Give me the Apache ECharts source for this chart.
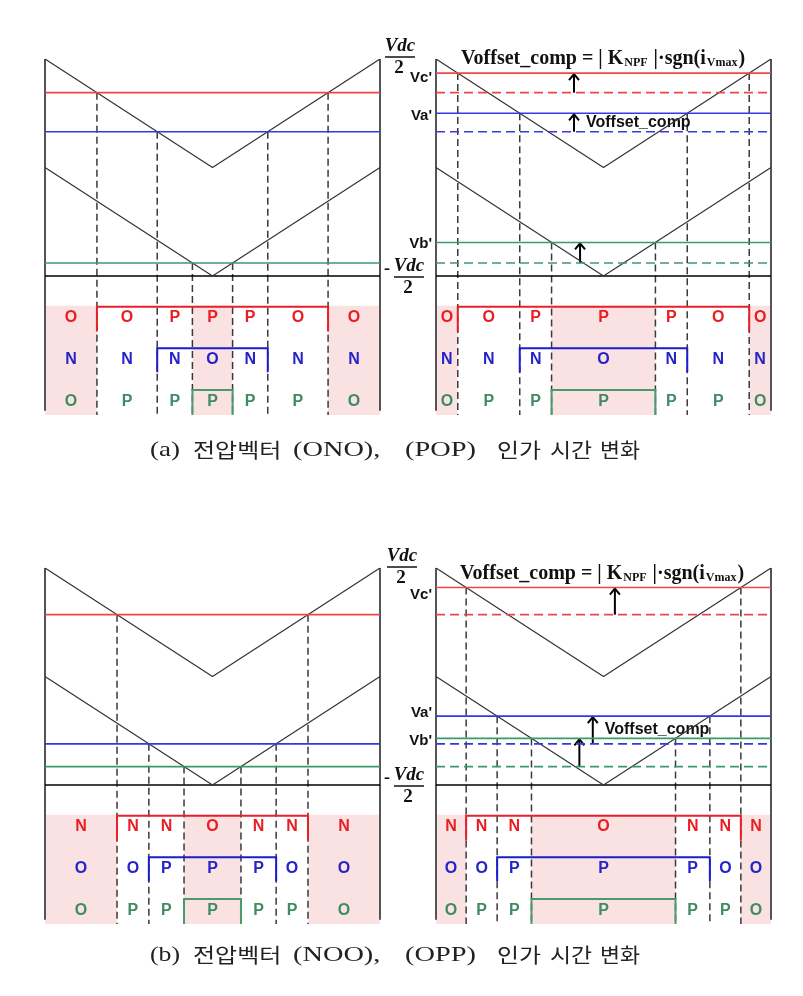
<!DOCTYPE html>
<html><head><meta charset="utf-8">
<script src="https://cdn.jsdelivr.net/npm/echarts/dist/echarts.min.js"></script>
<style>html,body{margin:0;padding:0;background:#fff}#c{width:803px;height:996px}</style>
</head><body><div id="c"></div>
<script>
// ---------------- data ----------------
const carrierX = [0, 0.5, 1];
const upperCarrier = [1, 0, 1];
const lowerCarrier = [0, -1, 0];
const phaseLabels = ["Vc'", "Va'", "Vb'"];
// reference voltages (Vc, Va, Vb), normalised to Vdc/2
const refA = [0.69, 0.33, -0.88];        // (a) before compensation
const refA2 = [0.87, 0.50, -0.69];       // (a) with Voffset_comp
const refB = [0.57, -0.62, -0.83];       // (b) before compensation
const refB2 = [0.82, -0.365, -0.57];     // (b) with Voffset_comp
const statesA = [
  ['O', 'O', 'P', 'P', 'P', 'O', 'O'],
  ['N', 'N', 'N', 'O', 'N', 'N', 'N'],
  ['O', 'P', 'P', 'P', 'P', 'P', 'O']
];
const statesB = [
  ['N', 'N', 'N', 'O', 'N', 'N', 'N'],
  ['O', 'O', 'P', 'P', 'P', 'O', 'O'],
  ['O', 'P', 'P', 'P', 'P', 'P', 'O']
];
const shadedIntervals = [1, 0, 0, 1, 0, 0, 1];
const captionA = '(a) 전압벡터 (ONO), (POP) 인가 시간 변화';
const captionB = '(b) 전압벡터 (NOO), (OPP) 인가 시간 변화';
const offsetName = 'Voffset_comp';
const formulaParts = ['Voffset_comp = | K', 'NPF', ' |·sgn(i', 'Vmax', ')'];

// ---------------- layout / style ----------------
const L = { pinkTop: -1.274, bottom: -2.28, borderBottom: -2.24,
  rowY: [-1.384, -1.77, -2.157], brTop: [-1.283, -1.666, -2.05], brBot: [-1.51, -1.887, -2.28] };
const lineColors = ['#f04646', '#3838e0', '#3c9a6a'];
const textColors = ['#ea1c24', '#2424c8', '#3f8c64'];
const brColors = ['#e82028', '#1c1cd0', '#4a9a70'];
const GW = 335, GH = 356;
const capStarts = [150, 193, 293, 405, 497, 550, 600];
const capEnds = [180, 282, 392, 488, 541, 592, 640];

const panels = [
  { left: 45, top: 59, refs: refA, states: statesA },
  { left: 436, top: 59, refs: refA2, base: refA, states: statesA, arrows: [0.412, 0.412, 0.43], labelDy: [5, 3, 1] },
  { left: 45, top: 568, refs: refB, states: statesB },
  { left: 436, top: 568, refs: refB2, base: refB, states: statesB, arrows: [0.534, 0.468, 0.428], labelDy: [7, -3, 2] }
];

function crossings(v) { return v >= 0 ? [(1 - v) / 2, (1 + v) / 2] : [-v / 2, 1 + v / 2]; }

const grid = [], xAxis = [], yAxis = [], series = [];
panels.forEach((p, gi) => {
  grid.push({ left: p.left, top: p.top, width: GW, height: GH });
  xAxis.push({ type: 'value', min: 0, max: 1, show: false, gridIndex: gi });
  yAxis.push({ type: 'value', min: -2.28, max: 1, show: false, gridIndex: gi });
  series.push({
    type: 'custom', xAxisIndex: gi, yAxisIndex: gi, clip: false, silent: true, z: 1,
    data: [[0, 0]],
    renderItem: (params, api) => {
      const P = (x, y) => api.coord([x, y]);
      const ch = [];
      const xs = [];
      p.refs.forEach(v => xs.push(...crossings(v)));
      xs.sort((a, b) => a - b);
      const bounds = [0, ...xs, 1];
      for (let k = 0; k < bounds.length - 1; k++) {
        if (!shadedIntervals[k]) continue;
        const a = P(bounds[k], L.pinkTop), b = P(bounds[k + 1], L.bottom);
        ch.push({ type: 'rect', shape: { x: a[0], y: a[1], width: b[0] - a[0], height: b[1] - a[1] }, style: { fill: '#fbe2e2' } });
      }
      p.refs.forEach(v => crossings(v).forEach(x => {
        const a = P(x, v), b = P(x, L.bottom);
        ch.push({ type: 'line', shape: { x1: a[0], y1: a[1], x2: b[0], y2: b[1] }, style: { stroke: '#3a3a3a', lineWidth: 1.5, lineDash: [7, 4] } });
      }));
      [0, 1].forEach(x => {
        const a = P(x, 1), b = P(x, L.borderBottom);
        ch.push({ type: 'line', shape: { x1: a[0], y1: a[1], x2: b[0], y2: b[1] }, style: { stroke: '#555', lineWidth: 2 } });
      });
      { const a = P(0, -1), b = P(1, -1);
        ch.push({ type: 'line', shape: { x1: a[0], y1: a[1], x2: b[0], y2: b[1] }, style: { stroke: '#000', lineWidth: 1.5 } }); }
      p.refs.forEach((v, i) => {
        const [x1, x2] = crossings(v);
        const a = P(x1, L.brTop[i]), b = P(x2, L.brBot[i]);
        ch.push({ type: 'polyline', shape: { points: [[a[0], b[1]], [a[0], a[1]], [b[0], a[1]], [b[0], b[1]]] },
          style: { stroke: brColors[i], lineWidth: 2, fill: null } });
      });
      p.states.forEach((row, i) => row.forEach((s, k) => {
        const c = P((bounds[k] + bounds[k + 1]) / 2, L.rowY[i]);
        ch.push({ type: 'text', x: c[0], y: c[1], style: { text: s, fill: textColors[i], font: 'bold 16px "Liberation Sans", Arial, sans-serif', align: 'center', verticalAlign: 'middle' } });
      }));
      if (p.base) {
        p.base.forEach((b0, i) => {
          const a = P(p.arrows[i], b0), t = P(p.arrows[i], p.refs[i]);
          ch.push({ type: 'line', shape: { x1: a[0], y1: a[1], x2: t[0], y2: t[1] + 1 }, style: { stroke: '#000', lineWidth: 2 } });
          ch.push({ type: 'polyline', shape: { points: [[t[0] - 5, t[1] + 7], [t[0], t[1] + 1], [t[0] + 5, t[1] + 7]] }, style: { stroke: '#000', lineWidth: 2, fill: null } });
        });
        const m = P(p.arrows[1], (p.base[1] + p.refs[1]) / 2);
        ch.push({ type: 'text', x: m[0] + 12, y: m[1], style: { text: offsetName, fill: '#111', font: 'bold 16px "Liberation Sans", Arial, sans-serif', align: 'left', verticalAlign: 'middle' } });
        p.refs.forEach((v, i) => {
          const c = P(0, v);
          ch.push({ type: 'text', x: c[0] - 4, y: c[1] + p.labelDy[i], style: { text: phaseLabels[i], fill: '#111', font: 'bold 15px "Liberation Sans", Arial, sans-serif', align: 'right', verticalAlign: 'middle' } });
        });
      }
      return { type: 'group', children: ch };
    }
  });
  [upperCarrier, lowerCarrier].forEach(cv => series.push({
    type: 'line', xAxisIndex: gi, yAxisIndex: gi, z: 3, symbol: 'none', silent: true,
    data: carrierX.map((x, i) => [x, cv[i]]),
    lineStyle: { color: '#333', width: 1.2 }
  }));
  p.refs.forEach((v, i) => series.push({
    type: 'line', xAxisIndex: gi, yAxisIndex: gi, z: 3, symbol: 'none', silent: true,
    data: [[0, v], [1, v]], lineStyle: { color: lineColors[i], width: 1.6 }
  }));
  if (p.base) p.base.forEach((v, i) => series.push({
    type: 'line', xAxisIndex: gi, yAxisIndex: gi, z: 3, symbol: 'none', silent: true,
    data: [[0, v], [1, v]], lineStyle: { color: lineColors[i], width: 1.6, type: [9, 5] }
  }));
});

const serifB = '"Liberation Serif", "Times New Roman", serif';
function frac(cx, cy, neg) {
  const g = [];
  if (neg) g.push({ type: 'text', x: cx - 22, y: cy - 8, style: { text: '-', font: 'bold 18px ' + serifB, fill: '#111', align: 'center', verticalAlign: 'middle' } });
  g.push({ type: 'text', x: cx, y: cy - 11, style: { text: 'Vdc', font: 'italic bold 19px ' + serifB, fill: '#111', align: 'center', verticalAlign: 'middle' } });
  g.push({ type: 'line', shape: { x1: cx - 15, y1: cy, x2: cx + 15, y2: cy }, style: { stroke: '#111', lineWidth: 1.5 } });
  g.push({ type: 'text', x: cx - 1, y: cy + 11, style: { text: '2', font: 'bold 19px ' + serifB, fill: '#111', align: 'center', verticalAlign: 'middle' } });
  return g;
}
const formulaText = '{t|' + formulaParts[0] + '}{s|' + formulaParts[1] + '}{t|' + formulaParts[2] + '}{s|' + formulaParts[3] + '}{t|' + formulaParts[4] + '}';
const formulaRich = { t: { font: 'bold 20px ' + serifB, fill: '#111', lineHeight: 22, verticalAlign: 'bottom' },
  s: { font: 'bold 12px ' + serifB, fill: '#111', lineHeight: 22, verticalAlign: 'bottom', padding: [0, 1, 0, 1] } };

// captions: words placed at their measured spans
const measureCtx = document.createElement('canvas').getContext('2d');
function captionWords(text, cy) {
  const words = text.split(' ');
  return words.map((w, i) => {
    const hangul = /[\uac00-\ud7a3]/.test(w);
    const font = hangul ? '20px "Noto Sans CJK KR", sans-serif' : '21px "Liberation Serif", serif';
    measureCtx.font = font;
    const wd = measureCtx.measureText(w).width;
    let sx = (capEnds[i] - capStarts[i]) / wd;
    sx = Math.max(0.9, Math.min(sx, hangul ? 1.2 : 1.35));
    return { type: 'text', x: capStarts[i], y: cy, scaleX: sx,
      style: { text: w, font, fill: '#222', align: 'left', verticalAlign: 'middle' } };
  });
}

const graphic = [
  ...frac(400, 57, false), ...frac(409, 277, true),
  ...frac(402, 567, false), ...frac(409, 786, true),
  { type: 'text', x: 461, y: 58, style: { text: formulaText, rich: formulaRich, verticalAlign: 'middle' } },
  { type: 'text', x: 460, y: 573, style: { text: formulaText, rich: formulaRich, verticalAlign: 'middle' } },
  ...captionWords(captionA, 450),
  ...captionWords(captionB, 955)
];

const chart = echarts.init(document.getElementById('c'), null, { renderer: 'canvas' });
chart.setOption({ animation: false, backgroundColor: '#fff', grid, xAxis, yAxis, series, graphic });
</script></body></html>
